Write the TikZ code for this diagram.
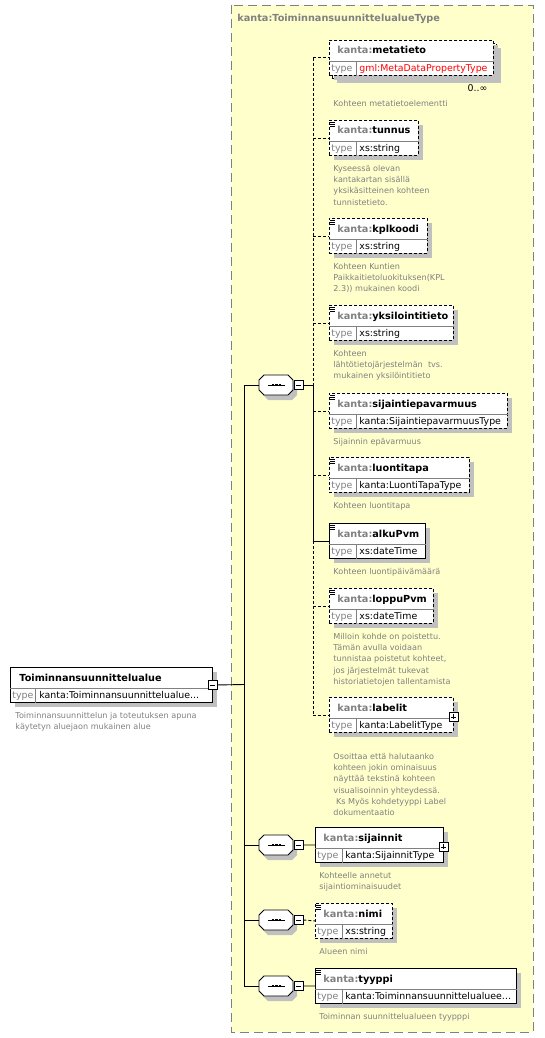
\documentclass[tikz,border=0pt]{standalone}
\usepackage{fontspec}
\setmainfont{DejaVu Sans}
\usetikzlibrary{positioning, shadows}
\definecolor{areayellow}{HTML}{FFFFCC}
\definecolor{kantagrey}{HTML}{808080}
\definecolor{shadowgrey}{HTML}{C0C0C0}

\begin{document}
\begin{tikzpicture}[
  x=1pt, y=-1pt, line width=0.9pt,
  shade5/.style={drop shadow={shadow xshift=5pt, shadow yshift=-5pt, fill=shadowgrey, opacity=1}},
  elbox/.style={rectangle, draw=black, fill=white, minimum height=35pt, inner sep=0pt, anchor=north west, shade5},
  opt/.style={dash pattern=on 3pt off 2pt},
  req/.style={solid},
  headtxt/.style={anchor=base west, inner sep=0pt, font=\fontsize{9.7}{11}\selectfont\bfseries},
  typetxt/.style={anchor=base west, inner sep=0pt, font=\fontsize{9.4}{11}\selectfont},
  desc/.style={anchor=north west, inner sep=0pt, align=left, text=kantagrey, font=\fontsize{8.1}{11.2}\selectfont},
  seqbox/.style={rectangle, minimum width=34pt, minimum height=20pt, inner sep=0pt},
  togglebox/.style={rectangle, draw, fill=white, minimum size=9pt, inner sep=0pt},
  collapsebox/.style={togglebox, path picture={\draw ([xshift=2pt]path picture bounding box.west) -- ([xshift=-2pt]path picture bounding box.east);}},
  expandbox/.style={togglebox, path picture={\draw ([xshift=2pt]path picture bounding box.west) -- ([xshift=-2pt]path picture bounding box.east);
                                               \draw ([yshift=-2pt]path picture bounding box.north) -- ([yshift=2pt]path picture bounding box.south);}}
]
\useasboundingbox (0,0) rectangle (544,1038);
\draw[draw=kantagrey, fill=areayellow, dash pattern=on 9pt off 5pt] (231,5) rectangle (533,1032);
\node[headtxt, text=kantagrey] (typename) at (237,21.5) {kanta:ToiminnansuunnittelualueType};

\node[elbox, minimum width=202pt] (main) at (10,667) {};
\draw[kantagrey] ([yshift=-21pt]main.north west) -- ([yshift=-21pt]main.north east);
\draw[kantagrey] ([shift={(25pt,-21pt)}]main.north west) -- ([xshift=25pt]main.south west);
\node[headtxt] (main-name) at ([shift={(9pt,-14pt)}]main.north west) {Toiminnansuunnittelualue};
\node[typetxt, text=kantagrey] (main-key) at ([shift={(2pt,-31.5pt)}]main.north west) {type};
\node[typetxt] (main-type) at ([shift={(29pt,-31.5pt)}]main.north west) {kanta:Toiminnansuunnittelualue...};
\node[collapsebox] (main-m) at (main.east) {};
\node[desc, below right=9pt and 5pt of main.south west] (main-desc) {Toiminnansuunnittelun ja toteutuksen apuna\\käytetyn aluejaon mukainen alue};

\foreach \s/\y in {1/385, 2/845, 3/920, 4/986} {
  \begin{scope}[shift={(276,\y)}]
    \fill[shadowgrey, shift={(4,5)}] (-17,-5) -- (-12,-10) -- (12,-10) -- (17,-5) -- (17,5) -- (12,10) -- (-12,10) -- (-17,5) -- cycle;
    \filldraw[fill=white] (-17,-5) -- (-12,-10) -- (12,-10) -- (17,-5) -- (17,5) -- (12,10) -- (-12,10) -- (-17,5) -- cycle;
    \node[seqbox] (seq\s) at (0,0) {};
    \draw[line width=1pt] (-8,0) -- (9,0);
    \foreach \d in {-3,0.5,4} \fill (\d-1.4,-1.4) rectangle ++(2.8,2.8);
  \end{scope}
  \node[collapsebox] (seq\s-m) at (298.5,\y) {};
}
\coordinate (trunk) at (244,684.5);
\coordinate (branch) at (313,385);
\draw (main-m.east) -- (trunk);
\draw (trunk |- seq1) -- (trunk |- seq4);
\foreach \s in {1,...,4} \draw (trunk |- seq\s) -- (seq\s.west);
\draw (seq1-m.east) -- (branch);

\node[elbox, opt, minimum width=164pt] (metatieto-back) at (332,43) {};
\foreach \n/\x/\y/\w/\typ/\st in {
  metatieto/329/40/164/{\textcolor{red}{gml:MetaDataPropertyType}}/opt,
  tunnus/329/120/89/xs:string/opt,
  kplkoodi/329/218/98/xs:string/opt,
  yksilointitieto/329/305/124/xs:string/opt,
  sijaintiepavarmuus/329/393/178/kanta:SijaintiepavarmuusType/opt,
  luontitapa/329/457/140/kanta:LuontiTapaType/opt,
  alkuPvm/329/523/96/xs:dateTime/req,
  loppuPvm/329/588/104/xs:dateTime/opt,
  labelit/329/697/124/kanta:LabelitType/opt,
  sijainnit/315/827/128/kanta:SijainnitType/req,
  nimi/315/903/77/xs:string/opt,
  tyyppi/315/968/201/kanta:Toiminnansuunnittelualuee…/req} {
  \node[elbox, \st, minimum width=\w pt] (\n) at (\x,\y) {};
  \draw[kantagrey] ([yshift=-21pt]\n.north west) -- ([yshift=-21pt]\n.north east);
  \draw[kantagrey] ([shift={(27pt,-21pt)}]\n.north west) -- ([xshift=27pt]\n.south west);
  \node[headtxt] (\n-name) at ([shift={(8pt,-14pt)}]\n.north west) {\textcolor{kantagrey}{kanta:}\n};
  \node[typetxt, text=kantagrey] (\n-key) at ([shift={(2pt,-31.5pt)}]\n.north west) {type};
  \node[typetxt] (\n-type) at ([shift={(30pt,-31.5pt)}]\n.north west) {\typ};
}
\foreach \n in {tunnus, kplkoodi, yksilointitieto, sijaintiepavarmuus, luontitapa, alkuPvm, loppuPvm, nimi, tyyppi}
  \foreach \d in {2.5,4.5,6.5} \draw[line width=0.7pt] ([shift={(1pt,-\d pt)}]\n.north west) -- ++(5pt,0pt);
\node[expandbox] (labelit-x) at ([yshift=-2pt]labelit.east) {};
\node[expandbox] (sijainnit-x) at ([yshift=-2pt]sijainnit.east) {};
\node[typetxt, anchor=base east] (metatieto-occ) at ([shift={(-6pt,-15.5pt)}]metatieto.south east) {0..∞};

\draw[opt] (branch |- metatieto.west) -- (branch);
\draw (branch) -- (branch |- alkuPvm.west);
\draw[opt] (branch |- alkuPvm.west) -- (branch |- labelit.west);
\foreach \n/\st in {metatieto/opt, tunnus/opt, kplkoodi/opt, yksilointitieto/opt, sijaintiepavarmuus/opt,
                    luontitapa/opt, alkuPvm/req, loppuPvm/opt, labelit/opt}
  \draw[\st] (branch |- \n.west) -- (\n.west);
\draw (seq2-m.east) -- (sijainnit.west);
\draw[opt] (seq3-m.east) -- (nimi.west);
\draw (seq4-m.east) -- (tyyppi.west);

\foreach \n/\d/\txt in {
  metatieto/24/{Kohteen metatietoelementti},
  tunnus/9/{Kyseessä olevan\\kantakartan sisällä\\yksikäsitteinen kohteen\\tunnistetieto.},
  kplkoodi/9/{Kohteen Kuntien\\Paikkaitietoluokituksen(KPL\\2.3)) mukainen koodi},
  yksilointitieto/9/{Kohteen\\lähtötietojärjestelmän~ tvs.\\mukainen yksilöintitieto},
  sijaintiepavarmuus/9/{Sijainnin epävarmuus},
  luontitapa/9/{Kohteen luontitapa},
  alkuPvm/9/{Kohteen luontipäivämäärä},
  loppuPvm/9/{Milloin kohde on poistettu.\\Tämän avulla voidaan\\tunnistaa poistetut kohteet,\\jos järjestelmät tukevat\\historiatietojen tallentamista},
  labelit/20/{Osoittaa että halutaanko\\kohteen jokin ominaisuus\\näyttää tekstinä kohteen\\visualisoinnin yhteydessä.\\\ Ks Myös kohdetyyppi Label\\dokumentaatio},
  sijainnit/9/{Kohteelle annetut\\sijaintiominaisuudet},
  nimi/9/{Alueen nimi},
  tyyppi/9/{Toiminnan suunnittelualueen tyypppi}}
  \node[desc, below right=\d pt and 4pt of \n.south west] (\n-desc) {\txt};
\end{tikzpicture}
\end{document}
